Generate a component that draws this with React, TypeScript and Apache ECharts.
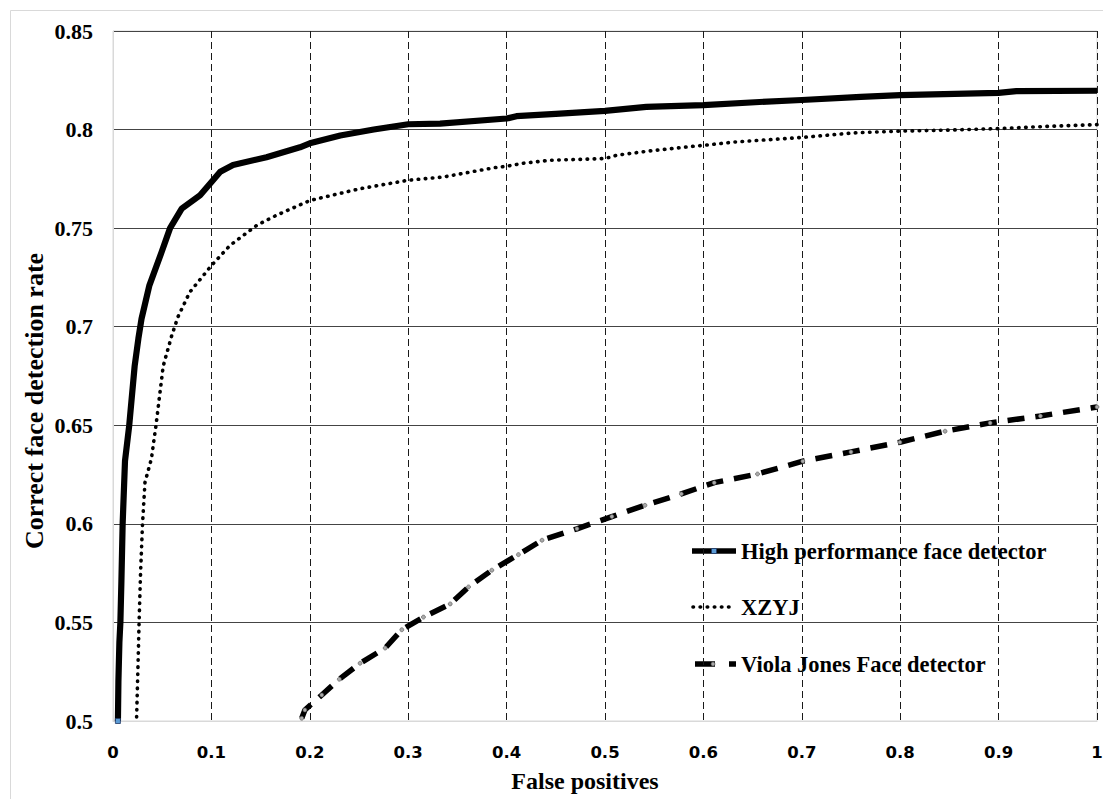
import React, { useEffect, useRef } from 'react';
import * as echarts from 'echarts';

const xTickLabels = ['0', '0.1', '0.2', '0.3', '0.4', '0.5', '0.6', '0.7', '0.8', '0.9', '1'];
const yTickLabels = ['0.5', '0.55', '0.6', '0.65', '0.7', '0.75', '0.8', '0.85'];
const seriesNames = ['High performance face detector', 'XZYJ', 'Viola Jones Face detector'];
const xAxisTitle = 'False positives';
const yAxisTitle = 'Correct face detection rate';

const highPerfData: [number, number][] = [
  [0.005, 0.5], [0.0055, 0.52], [0.0065, 0.54], [0.0075, 0.55], [0.0085, 0.57],
  [0.0098, 0.6], [0.0122, 0.632], [0.0165, 0.65], [0.022, 0.68], [0.0258, 0.694],
  [0.029, 0.704], [0.037, 0.721], [0.0495, 0.738], [0.058, 0.75], [0.07, 0.76],
  [0.0885, 0.7667], [0.1003, 0.7735], [0.109, 0.7786], [0.122, 0.782], [0.156, 0.786],
  [0.19, 0.791], [0.2, 0.793], [0.231, 0.797], [0.265, 0.8], [0.3, 0.8027],
  [0.3324, 0.803], [0.4, 0.8056], [0.41, 0.8068], [0.45, 0.808], [0.5, 0.8095],
  [0.542, 0.8115], [0.6, 0.8124], [0.657, 0.814], [0.7, 0.815], [0.76, 0.8166],
  [0.8, 0.8175], [0.9, 0.8186], [0.918, 0.8195], [1.0, 0.8197],
];

const xzyjData: [number, number][] = [
  [0.024, 0.502], [0.0255, 0.53], [0.0265, 0.55], [0.028, 0.575], [0.03, 0.6],
  [0.0325, 0.621], [0.039, 0.633], [0.0437, 0.65], [0.051, 0.68], [0.0597, 0.6955],
  [0.066, 0.705], [0.078, 0.7175], [0.1, 0.731], [0.119, 0.7413], [0.146, 0.7514],
  [0.166, 0.7565], [0.2, 0.764], [0.251, 0.77], [0.3, 0.7743], [0.3367, 0.776],
  [0.358, 0.778], [0.388, 0.7807], [0.4, 0.7814], [0.418, 0.783], [0.4436, 0.7844],
  [0.5, 0.7853], [0.512, 0.787], [0.546, 0.7892], [0.589, 0.7915], [0.6, 0.792],
  [0.632, 0.7937], [0.7, 0.796], [0.752, 0.7983], [0.8, 0.7992], [0.846, 0.7997],
  [0.9, 0.8005], [0.953, 0.8017], [1.0, 0.8025],
];

const violaJonesData: [number, number][] = [
  [0.1918, 0.5014], [0.195, 0.5056], [0.2122, 0.5132], [0.23, 0.5212], [0.2511, 0.5293],
  [0.2766, 0.537], [0.2935, 0.5463], [0.3155, 0.5527], [0.3427, 0.5594], [0.3613, 0.568],
  [0.385, 0.5765], [0.412, 0.5844], [0.436, 0.5917], [0.4715, 0.5975], [0.507, 0.6037],
  [0.5406, 0.6094], [0.5776, 0.6152], [0.611, 0.6209], [0.655, 0.6253], [0.701, 0.6318],
  [0.75, 0.6365], [0.7997, 0.6414], [0.8456, 0.647], [0.8914, 0.6512], [0.9425, 0.6547],
  [1.0, 0.6593],
];

export default function App() {
  const ref = useRef<HTMLDivElement>(null);

  useEffect(() => {
    document.body.style.margin = '0';
    document.body.style.overflow = 'hidden';
    const chart = echarts.init(ref.current as HTMLDivElement, null, { renderer: 'svg' });
    const serif = '"Liberation Serif", "Times New Roman", serif';
    const sans = '"DejaVu Sans", Verdana, sans-serif';

    const dotted = [0.5, 6.6];
    const dashed = [17, 11];

    const legendX1 = 692;
    const legendX2 = 736;
    const legendTextX = 741;
    const legendY = [551, 607, 664];
    const legendFont = `bold 22.5px ${serif}`;

    const graphic: any[] = [
      {
        type: 'rect',
        z: -10,
        silent: true,
        shape: { x: 10.5, y: 10.5, width: 1100, height: 800 },
        style: { fill: 'none', stroke: '#d9d9d9', lineWidth: 1 },
      },
      {
        type: 'text',
        x: 585,
        y: 781,
        style: {
          text: xAxisTitle,
          font: `bold 24px ${serif}`,
          fill: '#000',
          align: 'center',
          verticalAlign: 'middle',
          textAlign: 'center',
          textVerticalAlign: 'middle',
        },
      },
      {
        type: 'text',
        x: 34,
        y: 401,
        rotation: Math.PI / 2,
        style: {
          text: yAxisTitle,
          font: `bold 26px ${serif}`,
          fill: '#000',
          align: 'center',
          verticalAlign: 'middle',
          textAlign: 'center',
          textVerticalAlign: 'middle',
        },
      },
      // legend item 1
      {
        type: 'line',
        shape: { x1: legendX1, y1: legendY[0], x2: legendX2, y2: legendY[0] },
        style: { stroke: '#000', lineWidth: 5.5 },
      },
      {
        type: 'rect',
        shape: { x: 711.5, y: legendY[0] - 2.5, width: 5, height: 5 },
        style: { fill: '#5b9bd5', stroke: '#1f3864', lineWidth: 0.8 },
      },
      {
        type: 'text',
        x: legendTextX,
        y: legendY[0],
        style: {
          text: seriesNames[0], font: legendFont, fill: '#000',
          align: 'left', verticalAlign: 'middle', textAlign: 'left', textVerticalAlign: 'middle',
        },
      },
      // legend item 2
      {
        type: 'line',
        shape: { x1: legendX1 + 1, y1: legendY[1], x2: legendX2 - 2, y2: legendY[1] },
        style: { stroke: '#000', lineWidth: 3.6, lineDash: dotted, lineCap: 'round' },
      },
      {
        type: 'text',
        x: legendTextX,
        y: legendY[1],
        style: {
          text: seriesNames[1], font: legendFont, fill: '#000',
          align: 'left', verticalAlign: 'middle', textAlign: 'left', textVerticalAlign: 'middle',
        },
      },
      // legend item 3
      {
        type: 'line',
        shape: { x1: legendX1 + 3, y1: legendY[2], x2: legendX2, y2: legendY[2] },
        style: { stroke: '#000', lineWidth: 5.5, lineDash: [20, 14] },
      },
      {
        type: 'circle',
        shape: { cx: 713, cy: legendY[2], r: 2 },
        style: { fill: '#aaaaaa', stroke: '#555', lineWidth: 0.6 },
      },
      {
        type: 'text',
        x: legendTextX,
        y: legendY[2],
        style: {
          text: seriesNames[2], font: legendFont, fill: '#000',
          align: 'left', verticalAlign: 'middle', textAlign: 'left', textVerticalAlign: 'middle',
        },
      },
    ];

    const option: any = {
      animation: false,
      backgroundColor: '#ffffff',
      grid: {
        left: 113,
        right: 6,
        top: 31,
        bottom: 78,
        show: true,
        borderColor: '#d9d9d9',
        borderWidth: 1,
        outerBoundsMode: 'none',
        containLabel: false,
      },
      xAxis: {
        type: 'value',
        min: 0,
        max: 1,
        interval: 0.1,
        axisLine: { show: true, lineStyle: { color: '#d9d9d9', width: 1 } },
        axisTick: { show: false },
        axisLabel: {
          margin: 23,
          fontFamily: sans,
          fontWeight: 'bold',
          fontSize: 16.5,
          color: '#000',
          formatter: (v: number) => xTickLabels[Math.round(v * 10)] ?? '',
        },
        splitLine: {
          show: true,
          showMinLine: false,
          showMaxLine: true,
          lineStyle: { color: '#1a1a1a', width: 1, type: [7, 4] },
        },
      },
      yAxis: {
        type: 'value',
        min: 0.5,
        max: 0.85,
        interval: 0.05,
        axisLine: { show: true, lineStyle: { color: '#d9d9d9', width: 1 } },
        axisTick: { show: false },
        axisLabel: {
          margin: 20,
          fontFamily: serif,
          fontWeight: 'bold',
          fontSize: 22,
          color: '#000',
          formatter: (v: number) => yTickLabels[Math.round((v - 0.5) / 0.05)] ?? '',
        },
        splitLine: {
          show: true,
          showMinLine: false,
          showMaxLine: true,
          lineStyle: { color: '#444', width: 1, type: 'solid' },
        },
      },
      series: [
        {
          name: seriesNames[0],
          type: 'line',
          data: highPerfData,
          symbol: 'rect',
          showSymbol: true,
          symbolSize: (_v: any, p: any) => (p.dataIndex === 0 ? 5 : 0),
          itemStyle: { color: '#5b9bd5', borderColor: '#1f3864', borderWidth: 0.8 },
          lineStyle: { color: '#000', width: 6.2, join: 'round' },
          z: 4,
        },
        {
          name: seriesNames[1],
          type: 'line',
          data: xzyjData,
          symbol: 'none',
          lineStyle: { color: '#000', width: 3.6, type: dotted, cap: 'round' },
          z: 3,
        },
        {
          name: seriesNames[2],
          type: 'line',
          data: violaJonesData,
          symbol: 'circle',
          showSymbol: true,
          symbolSize: 4,
          itemStyle: { color: '#aaaaaa', borderColor: '#555', borderWidth: 0.6 },
          lineStyle: { color: '#000', width: 5.5, type: dashed },
          z: 3,
        },
      ],
      graphic,
    };

    chart.setOption(option);
    return () => chart.dispose();
  }, []);

  return <div ref={ref} style={{ width: 1103, height: 799 }} />;
}
